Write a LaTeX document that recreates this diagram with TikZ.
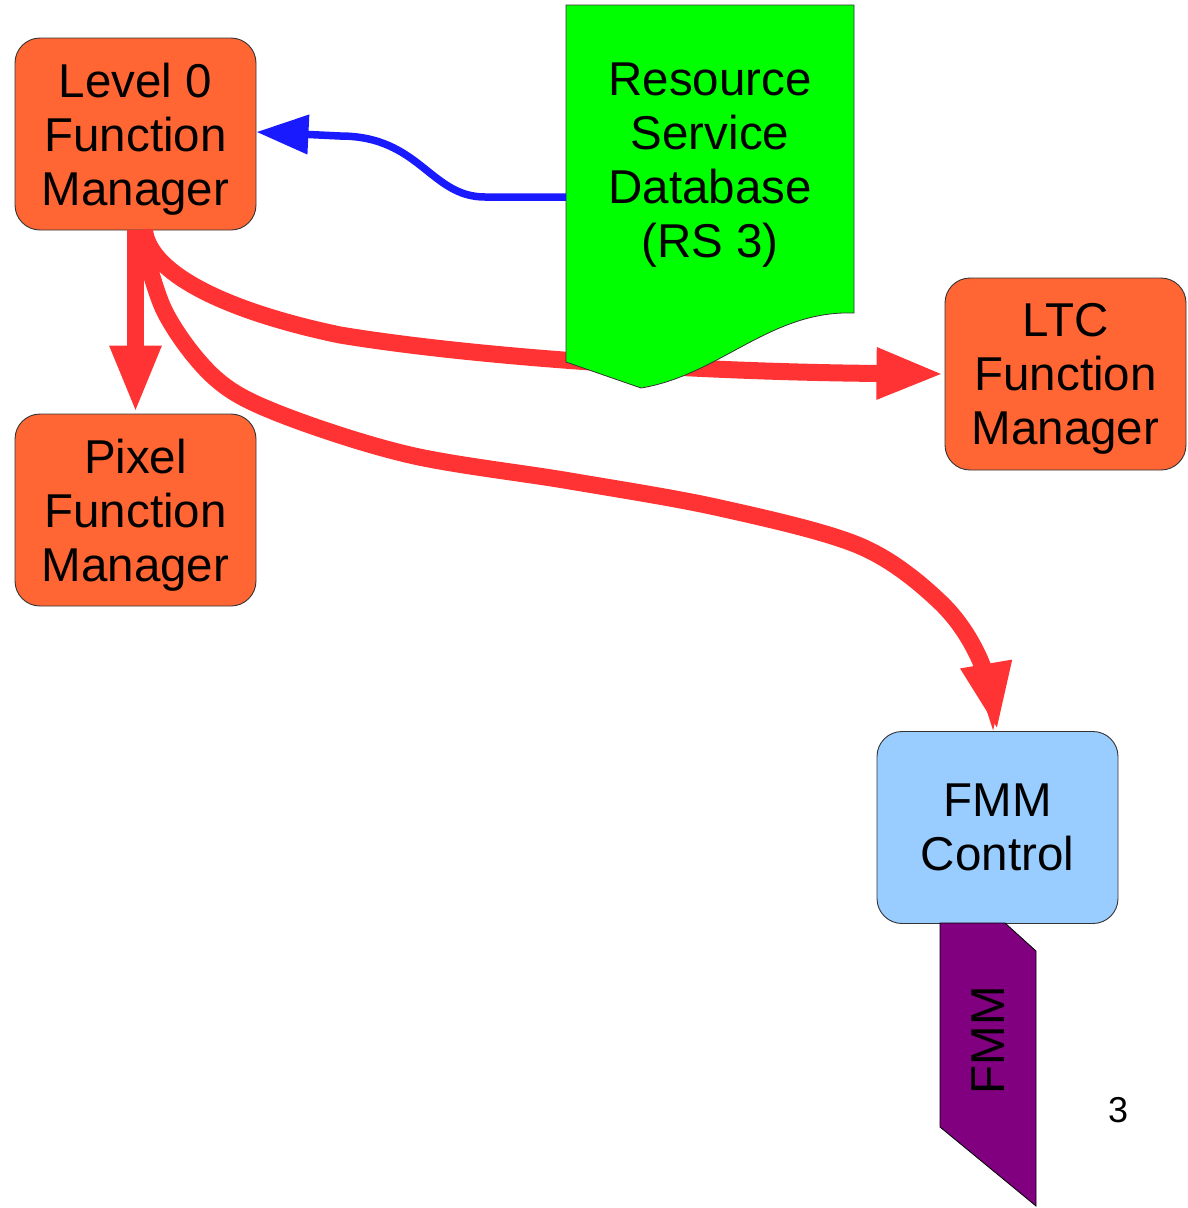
\documentclass[tikz,border=0pt]{standalone}
\usepackage{fontspec}
\setmainfont{Liberation Sans}
\usetikzlibrary{arrows.meta}
\definecolor{fmorange}{HTML}{FF6633}
\definecolor{arrred}{HTML}{FF3333}
\definecolor{arrblue}{HTML}{1A1AFF}
\definecolor{docgreen}{HTML}{00FF00}
\definecolor{fmmpurple}{HTML}{800080}
\definecolor{ctrlblue}{HTML}{99CCFF}
\begin{document}
\begin{tikzpicture}[x=1pt,y=-1pt,
  box/.style={draw=black!80, line width=0.9pt, rounded corners=25pt, minimum width=241pt, minimum height=192pt, align=center, inner sep=0pt, font=\fontsize{47.5}{54}\selectfont},
  fm/.style={box, fill=fmorange},
  redarrow/.style={draw=arrred, line width=17pt, -{Triangle[length=68pt,width=47pt]}},
  bluearrow/.style={draw=arrblue, line width=7.5pt, -{Triangle[length=52pt,width=38pt]}},
  big/.style={align=center, inner sep=0pt, font=\fontsize{47.5}{54}\selectfont}]
\useasboundingbox (0,0) rectangle (1188,1208);
% boxes
\node[fm] (l0) at (135.5,134) {};
\node[big] (l0t) at ([yshift=-5pt]l0.center) {Level 0\\Function\\Manager};
\node[fm] (pix) at (135.5,510) {};
\node[big] (pixt) at ([yshift=-5pt]pix.center) {Pixel\\Function\\Manager};
\node[fm] (ltc) at (1065.5,374) {};
\node[big] (ltct) at ([yshift=-5pt]ltc.center) {LTC\\Function\\Manager};
\node[box, fill=ctrlblue] (ctrl) at (997.5,827.5) {FMM\\Control};
% red arrows
\draw[redarrow] (l0.south) -- (pix.north);
\draw[redarrow] ([xshift=9pt]l0.south) .. controls (150,275) and (230,312) .. (340,335)
   .. controls (480,358) and (700,372) .. (ltc.west);
\draw[redarrow] plot[smooth, tension=0.55] coordinates {([xshift=4pt]l0.south) (165,312) (215,378) (280,414) (410,455) (570,481) (720,508) (860,546) (940,602) (980,660) (ctrl.north)};
% document shape
\draw[fill=docgreen, draw=black!80, line width=0.8pt] (566,5) -- (854,5) -- (854,313)
   .. controls (770,310) and (720,375) .. (641,388) -- (566,362) -- cycle;
\node[big] (rsd) at (710,165) {Resource\\Service\\Database\\(RS 3)};
\coordinate (rsdw) at (566,197);
% blue arrow
\draw[bluearrow] (rsdw) -- (485,197) .. controls (430,197) and (420,136) .. (340,136) -- ([yshift=2pt]l0.east);
% FMM shape
\draw[fill=fmmpurple, draw=black, line width=0.8pt] (940,923) -- (1005,923) -- (1036,951) -- (1036,1206) -- (940,1127) -- cycle;
\node[big, rotate=90] (fmm) at (988,1040) {FMM};
\node[inner sep=0pt, font=\fontsize{36}{40}\selectfont] (pg) at (1118,1110) {3};
\end{tikzpicture}
\end{document}
